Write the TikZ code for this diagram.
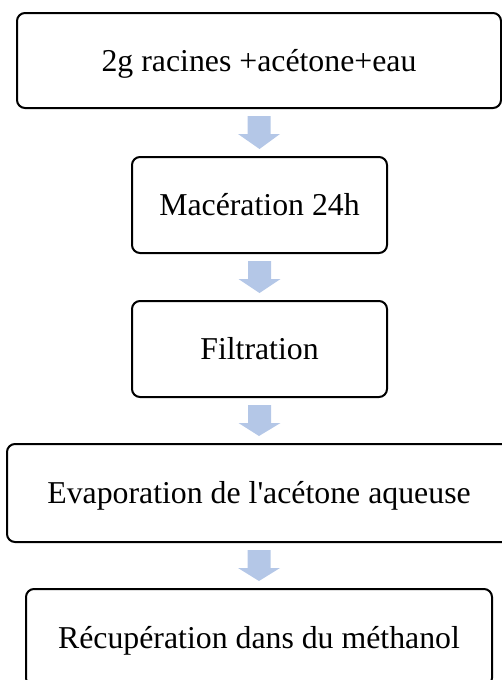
\documentclass[tikz,border=0pt]{standalone}
\usepackage{fontspec}
\setmainfont{Liberation Serif}
\usetikzlibrary{calc}
\definecolor{flowblue}{RGB}{180,199,231}
\tikzset{
  stepbox/.style={draw=black, line width=2pt, rounded corners=8pt, fill=white,
    inner sep=0pt, align=center, text height=21pt, text depth=0pt,
    font=\fontsize{31.8}{36}\selectfont},
  flowarrow/.style={fill=flowblue, draw=none}
}
% block arrow from the bottom of #1 to the top of #2 (y grows downwards)
\newcommand{\blockarrow}[2]{%
  \fill[flowarrow]
    ($(#1.south)+(-11.5,7)$) -- ($(#1.south)+(11.5,7)$) --
    ($(#1.south)+(11.5,25)$) -- ($(#1.south)+(21,25)$) --
    ($(#2.north)+(0,-7)$) --
    ($(#1.south)+(-21,25)$) -- ($(#1.south)+(-11.5,25)$) -- cycle;}
\begin{document}
\begin{tikzpicture}[x=1pt,y=-1pt]
  \useasboundingbox (0,0) rectangle (502,680);
  \clip (0,0) rectangle (502,680);
  \node[stepbox, minimum width=484pt, minimum height=95pt] (s1) at (259,60.5) {2g racines +acétone+eau};
  \node[stepbox, minimum width=255pt, minimum height=96pt] (s2) at (259.5,205) {Macération 24h};
  \node[stepbox, minimum width=255pt, minimum height=96pt] (s3) at (259.5,349) {Filtration};
  \node[stepbox, minimum width=504pt, minimum height=98pt] (s4) at (259,493) {Evaporation de l\textquotesingle acétone aqueuse};
  \node[stepbox, minimum width=466pt, minimum height=97pt] (s5) at (259,637.5) {Récupération dans du méthanol};
  \blockarrow{s1}{s2}
  \blockarrow{s2}{s3}
  \blockarrow{s3}{s4}
  \blockarrow{s4}{s5}
\end{tikzpicture}
\end{document}
